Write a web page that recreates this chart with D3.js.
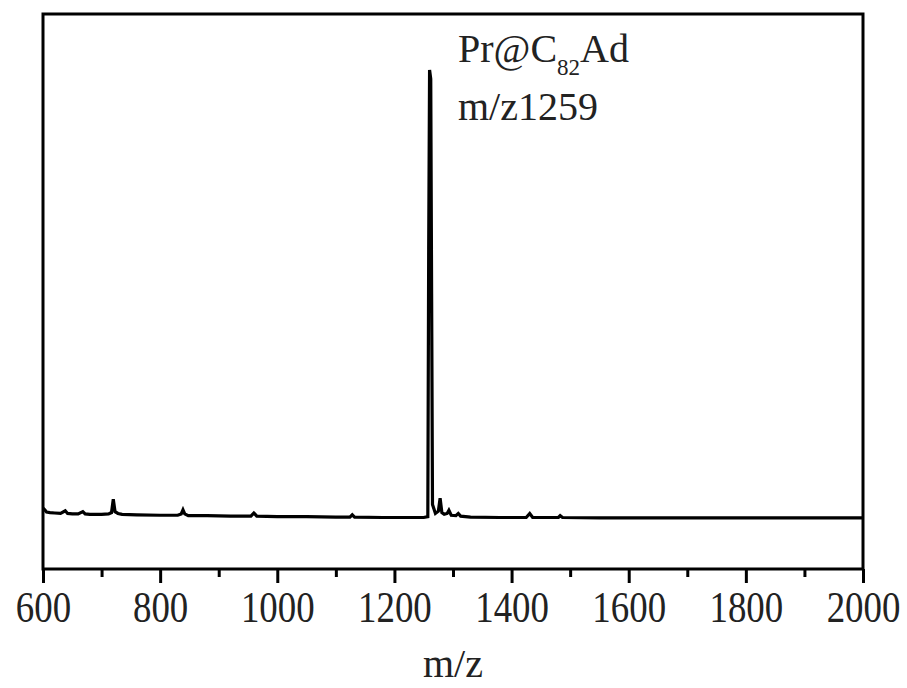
<!DOCTYPE html>
<html>
<head>
<meta charset="utf-8">
<script src="https://cdn.jsdelivr.net/npm/d3@7"></script>
<style>
  body { margin: 0; background: #fff; }
  svg { display: block; font-family: "Liberation Serif", "DejaVu Serif", serif; }
</style>
</head>
<body>
<div id="chart"></div>
<script>
// Spectrum points (m/z and relative intensity)
const mz = [600, 603, 606, 612, 620, 630, 638, 642, 650, 660, 668, 672, 680, 700,
    712, 717, 720, 723, 728, 735, 760, 800, 830, 836, 839, 842, 848, 880, 920,
    955, 960, 965, 1000, 1050, 1100, 1124, 1128, 1132, 1180, 1230, 1250, 1257,
    1258.5, 1260, 1262, 1263.5, 1265, 1270, 1275, 1278, 1281, 1285, 1290, 1293,
    1297, 1305, 1309, 1313, 1330, 1380, 1425, 1431, 1436, 1480, 1483, 1487,
    1550, 1650, 1750, 1850, 1950, 2000];
const intensity = [2.2, 1.8, 1.3, 1.2, 1.1, 1.0, 1.6, 1.0, 0.9, 0.9, 1.4, 0.9, 0.8, 0.8,
    0.9, 1.2, 4.2, 1.4, 1.0, 0.8, 0.7, 0.6, 0.6, 0.9, 1.8, 0.9, 0.5, 0.5, 0.4,
    0.4, 1.1, 0.4, 0.3, 0.3, 0.2, 0.2, 0.7, 0.2, 0.1, 0.1, 0.1, 0.3,
    60, 100, 98, 50, 3.0, 1.0, 1.5, 4.4, 1.2, 0.8, 1.0, 1.7,
    0.6, 0.5, 1.0, 0.4, 0.2, 0.1, 0.1, 1.0, 0.1, 0.1, 0.5, 0.1,
    0, 0, 0, 0, 0, 0];

const majorTicks = [600, 800, 1000, 1200, 1400, 1600, 1800, 2000];
const minorTicks = [700, 900, 1100, 1300, 1500, 1700, 1900];

const width = 907, height = 688;
const plot = {left: 43, right: 863, top: 14, bottom: 569};

let svg = d3.select("#chart").append("svg")
    .attr("width", width)
    .attr("height", height);

let x = d3.scaleLinear().domain([600, 2000]).range([plot.left, plot.right]);
let y = d3.scaleLinear().domain([-11.4, 112.5]).range([plot.bottom, plot.top]);

// Spectrum line
let points = mz.map((m, i) => [m, intensity[i]]);
svg.append("path")
    .datum(points)
    .attr("fill", "none")
    .attr("stroke", "#000")
    .attr("stroke-width", 3.2)
    .attr("stroke-linejoin", "miter")
    .attr("d", d3.line().x(d => x(d[0])).y(d => y(d[1])));

// Minor ticks
svg.append("g")
    .attr("transform", `translate(0, ${plot.bottom})`)
    .call(d3.axisBottom(x).tickValues(minorTicks).tickSize(8).tickFormat(""))
    .call(g => g.select(".domain").remove())
    .call(g => g.selectAll("line").attr("stroke-width", 3));

// Major ticks with labels (glyphs look a bit taller than plain Times)
let xAxis = svg.append("g")
    .attr("transform", `translate(0, ${plot.bottom})`)
    .call(d3.axisBottom(x).tickValues(majorTicks).tickSize(14).tickFormat(d3.format("d")));
xAxis.select(".domain").remove();
xAxis.selectAll("line").attr("stroke-width", 3);
xAxis.selectAll("text")
    .attr("y", 0)
    .attr("dy", 0)
    .attr("transform", "translate(0, 53) scale(0.97, 1.18)")
    .attr("fill", "#222")
    .style("font-size", "38px")
    .style("font-family", "Liberation Serif, serif");

// Frame
svg.append("rect")
    .attr("x", plot.left)
    .attr("y", plot.top)
    .attr("width", plot.right - plot.left)
    .attr("height", plot.bottom - plot.top)
    .attr("fill", "none")
    .attr("stroke", "#000")
    .attr("stroke-width", 3);

// Axis title
svg.append("text")
    .attr("x", (plot.left + plot.right) / 2)
    .attr("y", 677)
    .attr("text-anchor", "middle")
    .attr("fill", "#222")
    .style("font-size", "40px")
    .text("m/z");

// Peak annotation
let label = svg.append("text")
    .attr("x", 458)
    .attr("y", 62)
    .attr("fill", "#222")
    .style("font-size", "40px");
label.append("tspan").text("Pr@C");
label.append("tspan").attr("dy", 13).style("font-size", "23px").text("82");
label.append("tspan").attr("dy", -13).text("Ad");

svg.append("text")
    .attr("x", 458)
    .attr("y", 120)
    .attr("fill", "#222")
    .style("font-size", "40px")
    .text("m/z1259");
</script>
</body>
</html>
